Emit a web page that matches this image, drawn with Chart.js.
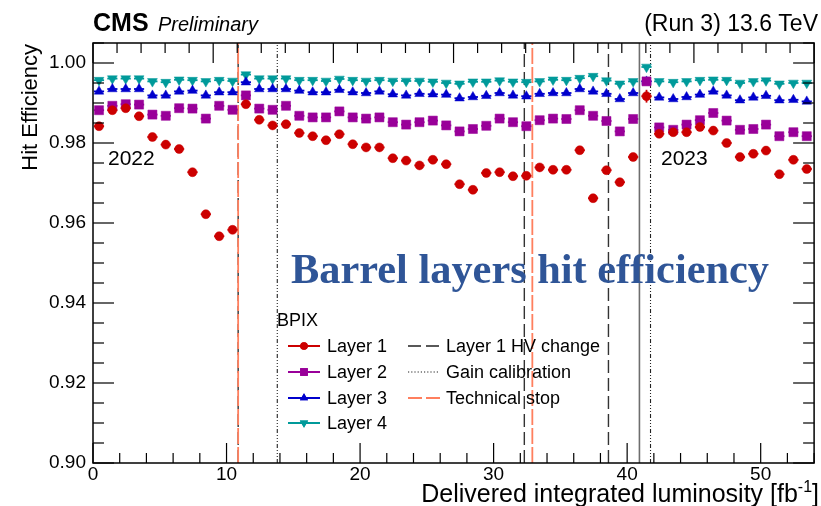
<!DOCTYPE html>
<html>
<head>
<meta charset="utf-8">
<script src="https://cdn.jsdelivr.net/npm/chart.js@4.4.1/dist/chart.umd.min.js"></script>
<style>
  html, body { margin: 0; padding: 0; background: #fff; }
  canvas { display: block; }
</style>
</head>
<body>
<canvas id="c" width="821" height="506"></canvas>
<script>
// bin centres, delivered lumi [fb^-1]
const LUMI = [0.45, 1.45, 2.45, 3.45, 4.45, 5.45, 6.45, 7.45, 8.45, 9.45, 10.45, 11.45, 12.45,
  13.45, 14.45, 15.45, 16.45, 17.45, 18.45, 19.45, 20.45, 21.45, 22.45, 23.45, 24.45, 25.45,
  26.45, 27.45, 28.45, 29.45, 30.45, 31.45, 32.45, 33.45, 34.45, 35.45, 36.45, 37.45, 38.45,
  39.45, 40.45, 41.45, 42.4, 43.45, 44.45, 45.45, 46.45, 47.45, 48.45, 49.45, 50.4, 51.4, 52.45, 53.45];

const LAYER1 = [0.9842, 0.9882, 0.9887, 0.9867, 0.9815, 0.9796, 0.9785, 0.9727, 0.9622, 0.9567, 0.9583, 0.9897, 0.9858,
  0.9844, 0.9847, 0.9825, 0.9817, 0.9807, 0.9822, 0.9797, 0.9789, 0.9789, 0.9762, 0.9756, 0.9744, 0.9758,
  0.9747, 0.9697, 0.9683, 0.9725, 0.9727, 0.9717, 0.9718, 0.9739, 0.9733, 0.9733, 0.9782, 0.9662, 0.9732,
  0.9702, 0.9765, 0.9917, 0.9823, 0.9827, 0.9827, 0.9840, 0.9831, 0.9800, 0.9765, 0.9773, 0.9781, 0.9722, 0.9758, 0.9735];
const LAYER2 = [0.9882, 0.9893, 0.9897, 0.9896, 0.9871, 0.9868, 0.9887, 0.9886, 0.9861, 0.9893, 0.9883, 0.9919, 0.9886,
  0.9883, 0.9893, 0.9868, 0.9864, 0.9864, 0.9879, 0.9864, 0.9861, 0.9864, 0.9852, 0.9846, 0.9852, 0.9856,
  0.9844, 0.9829, 0.9835, 0.9843, 0.9861, 0.9852, 0.9842, 0.9857, 0.9861, 0.9860, 0.9882, 0.9868, 0.9855,
  0.9829, 0.9860, 0.9954, 0.9839, 0.9833, 0.9846, 0.9857, 0.9875, 0.9856, 0.9833, 0.9835, 0.9846, 0.9817, 0.9827, 0.9817];
const LAYER3 = [0.9929, 0.9935, 0.9935, 0.9935, 0.9919, 0.9919, 0.9929, 0.9931, 0.9919, 0.9927, 0.9927, 0.9952, 0.9935,
  0.9935, 0.9935, 0.9931, 0.9927, 0.9927, 0.9933, 0.9927, 0.9925, 0.9929, 0.9922, 0.9919, 0.9923, 0.9922,
  0.9921, 0.9912, 0.9915, 0.9918, 0.9925, 0.9919, 0.9917, 0.9923, 0.9925, 0.9925, 0.9935, 0.9929, 0.9923,
  0.9910, 0.9925, 0.9954, 0.9914, 0.9910, 0.9915, 0.9921, 0.9929, 0.9919, 0.9907, 0.9914, 0.9918, 0.9907, 0.9908, 0.9904];
const LAYER4 = [0.9957, 0.9961, 0.9961, 0.9961, 0.9954, 0.9952, 0.9958, 0.9957, 0.9954, 0.9957, 0.9955, 0.9971, 0.9961,
  0.9961, 0.9961, 0.9957, 0.9957, 0.9955, 0.9960, 0.9957, 0.9955, 0.9957, 0.9955, 0.9955, 0.9955, 0.9953,
  0.9950, 0.9948, 0.9953, 0.9953, 0.9956, 0.9953, 0.9952, 0.9954, 0.9958, 0.9957, 0.9962, 0.9967, 0.9956,
  0.9948, 0.9954, 0.9990, 0.9954, 0.9952, 0.9954, 0.9957, 0.9958, 0.9957, 0.9950, 0.9954, 0.9956, 0.9948, 0.9950, 0.9950];

// visible vertical error only on the layer 1 point right after the year change
const L1_YERR_AT = [41.45];
const L1_YERR = [0.0016];
const XERR = 0.38;

// vertical markers [fb^-1]
const HV_CHANGE = [10.87, 32.3, 38.6];
const GAIN_CAL = [13.8, 41.75];
const TECH_STOP = [10.87, 32.9];
const YEAR_END = [40.92];

const X_TICKS = [0, 10, 20, 30, 40, 50];
const Y_TICKS = [0.90, 0.92, 0.94, 0.96, 0.98, 1.00];

const SANS = '"Liberation Sans", Arial, Helvetica, sans-serif';
const HV_DASH = [13, 5], GAIN_DASH = [4, 2, 1, 2, 1, 2, 1, 2], TS_DASH = [16, 3];
const TS_COLOR = '#ff7f5e';

const SERIES = [
  { label: 'Layer 1', data: LAYER1, color: '#cc0000', style: 'circle', radius: 4.5, rot: 0 },
  { label: 'Layer 2', data: LAYER2, color: '#990099', style: 'rect', radius: 6.4, rot: 0 },
  { label: 'Layer 3', data: LAYER3, color: '#0000cc', style: 'triangle', radius: 5.5, rot: 0 },
  { label: 'Layer 4', data: LAYER4, color: '#009a9a', style: 'triangle', radius: 5.7, rot: 180 },
];

function vline(ctx, xs, yScale, px, color, width, dash) {
  ctx.save();
  ctx.strokeStyle = color; ctx.lineWidth = width; ctx.setLineDash(dash);
  ctx.beginPath(); ctx.moveTo(px, yScale.bottom); ctx.lineTo(px, yScale.top); ctx.stroke();
  ctx.restore();
}
function seg(ctx, x1, y1, x2, y2) { ctx.beginPath(); ctx.moveTo(x1, y1); ctx.lineTo(x2, y2); ctx.stroke(); }

const decor = {
  id: 'decor',
  beforeDatasetsDraw(chart) {
    const { ctx, chartArea: a, scales: { x, y } } = chart;
    ctx.save();
    ctx.beginPath(); ctx.rect(a.left, a.top, a.right - a.left, a.bottom - a.top); ctx.clip();
    YEAR_END.forEach(v => vline(ctx, x, y, x.getPixelForValue(v), '#6e6e6e', 1.6, []));
    HV_CHANGE.forEach(v => vline(ctx, x, y, x.getPixelForValue(v), '#333', 1.4, HV_DASH));
    GAIN_CAL.forEach(v => vline(ctx, x, y, x.getPixelForValue(v), '#222', 1.1, GAIN_DASH));
    TECH_STOP.forEach(v => vline(ctx, x, y, x.getPixelForValue(v), TS_COLOR, 1.8, TS_DASH));
    // horizontal (bin width) error bars
    chart.data.datasets.forEach(ds => {
      ctx.strokeStyle = ds.borderColor; ctx.lineWidth = 1.8; ctx.setLineDash([]);
      ds.data.forEach(p => {
        const py = y.getPixelForValue(p.y);
        seg(ctx, x.getPixelForValue(p.x - XERR), py, x.getPixelForValue(p.x + XERR), py);
      });
    });
    const d1 = chart.data.datasets[0];
    L1_YERR_AT.forEach((lx, k) => {
      const p = d1.data.find(q => q.x === lx);
      if (!p) return;
      ctx.strokeStyle = d1.borderColor;
      const px = x.getPixelForValue(p.x);
      seg(ctx, px, y.getPixelForValue(p.y - L1_YERR[k]), px, y.getPixelForValue(p.y + L1_YERR[k]));
    });
    ctx.restore();
  },
  afterDraw(chart) {
    const { ctx, chartArea: a, scales: { x, y, x2 } } = chart;
    ctx.save();
    // frame + ticks on all four sides
    ctx.strokeStyle = '#000'; ctx.lineWidth = 1.5; ctx.setLineDash([]);
    ctx.strokeRect(a.left, a.top, a.right - a.left, a.bottom - a.top);
    ctx.lineWidth = 1.2;
    for (let v = 0; v <= 54; v += 2) {
      const px = x.getPixelForValue(v), len = v % 10 === 0 ? 20 : 10;
      seg(ctx, px, a.bottom, px, a.bottom - len);
    }
    for (let v = 0; v <= 60; v += 2) {
      const px = x2.getPixelForValue(v), len = v % 10 === 0 ? 20 : 10;
      seg(ctx, px, a.top, px, a.top + len);
    }
    for (let i = 0; i <= 21; i++) {
      const py = y.getPixelForValue(0.9 + i * 0.005), len = i % 4 === 0 ? 21 : 11;
      seg(ctx, a.left, py, a.left + len, py);
      seg(ctx, a.right, py, a.right - len, py);
    }

    ctx.fillStyle = '#000';
    ctx.textBaseline = 'alphabetic';
    ctx.textAlign = 'left';
    ctx.font = 'bold 25px ' + SANS;
    ctx.fillText('CMS', 93, 31);
    ctx.font = 'italic 20px ' + SANS;
    ctx.fillText('Preliminary', 158, 31);
    ctx.textAlign = 'right';
    ctx.font = '23px ' + SANS;
    ctx.fillText('(Run 3) 13.6 TeV', 818, 31);

    // axis titles
    ctx.save();
    ctx.translate(31, a.top + 1);
    ctx.rotate(-Math.PI / 2);
    ctx.textAlign = 'right'; ctx.textBaseline = 'middle';
    ctx.font = '22px ' + SANS;
    ctx.fillText('Hit Efficiency', 0, 0);
    ctx.restore();

    const titleFont = '25px ' + SANS;
    const supFont = '16px ' + SANS;
    ctx.textAlign = 'left';
    ctx.font = titleFont;
    const w1 = ctx.measureText('Delivered integrated luminosity [fb').width;
    const w3 = ctx.measureText(']').width;
    ctx.font = supFont;
    const w2 = ctx.measureText('-1').width;
    const tx = 819 - w1 - w2 - w3;
    ctx.font = titleFont;
    ctx.fillText('Delivered integrated luminosity [fb', tx, 502);
    ctx.font = supFont;
    ctx.fillText('-1', tx + w1, 492);
    ctx.font = titleFont;
    ctx.fillText(']', tx + w1 + w2, 502);

    // year labels
    ctx.font = '21px ' + SANS;
    ctx.fillText('2022', 108, 165);
    ctx.fillText('2023', 661, 165);

    // overlay title
    ctx.save();
    ctx.font = 'bold 42px "Liberation Serif", "Times New Roman", serif';
    ctx.fillStyle = '#2f5597';
    const tw = ctx.measureText('Barrel layers hit efficiency').width;
    ctx.translate(291, 283);
    ctx.scale(478 / tw, 1);
    ctx.fillText('Barrel layers hit efficiency', 0, 0);
    ctx.restore();

    // legend
    ctx.font = '18px ' + SANS;
    ctx.textBaseline = 'middle';
    ctx.fillStyle = '#000';
    ctx.fillText('BPIX', 277, 321);
    const rows = [346, 372, 398, 423];
    chart.data.datasets.forEach((ds, i) => {
      const ry = rows[i];
      ctx.strokeStyle = ds.borderColor; ctx.lineWidth = 2; ctx.setLineDash([]);
      seg(ctx, 288, ry, 320, ry);
      ctx.fillStyle = ds.backgroundColor;
      Chart.helpers.drawPoint(ctx, { pointStyle: ds.pointStyle, rotation: ds.pointRotation, radius: ds.pointRadius * 0.85, borderWidth: 0 }, 304, ry);
      ctx.fill();
      ctx.fillStyle = '#000';
      ctx.fillText(ds.label, 327, ry + 1);
    });
    const extra = [
      { text: 'Layer 1 HV change', color: '#222', w: 1.4, dash: HV_DASH },
      { text: 'Gain calibration', color: '#222', w: 1.1, dash: [1.2, 2] },
      { text: 'Technical stop', color: TS_COLOR, w: 2, dash: [14, 4] },
    ];
    extra.forEach((e, i) => {
      const ry = rows[i];
      ctx.strokeStyle = e.color; ctx.lineWidth = e.w; ctx.setLineDash(e.dash);
      seg(ctx, 408, ry, 440, ry);
      ctx.setLineDash([]);
      ctx.fillStyle = '#000';
      ctx.fillText(e.text, 446, ry + 1);
    });
    ctx.restore();
  }
};

const datasets = SERIES.map(s => ({
  label: s.label,
  data: LUMI.map((lx, i) => ({ x: lx, y: s.data[i] })),
  showLine: false,
  borderColor: s.color,
  backgroundColor: s.color,
  pointBackgroundColor: s.color,
  pointBorderColor: s.color,
  pointBorderWidth: 0.5,
  pointStyle: s.style,
  pointRotation: s.rot,
  pointRadius: s.radius,
}));

new Chart(document.getElementById('c'), {
  type: 'scatter',
  data: { datasets },
  options: {
    responsive: false,
    animation: false,
    devicePixelRatio: 1,
    layout: { padding: { top: 43, right: 3, left: 0, bottom: 0 } },
    plugins: { legend: { display: false }, tooltip: { enabled: false } },
    scales: {
      x: {
        type: 'linear', position: 'bottom', min: 0, max: 54,
        grid: { display: false, drawTicks: false }, border: { display: false },
        afterBuildTicks: s => { s.ticks = X_TICKS.map(v => ({ value: v })); },
        ticks: { color: '#000', font: { family: SANS, size: 19 }, padding: 0, maxRotation: 0, callback: v => String(v) },
        afterFit: s => { s.height = 43; }
      },
      x2: {
        type: 'linear', axis: 'x', position: 'top', min: 0, max: 60, display: false
      },
      y: {
        type: 'linear', min: 0.9, max: 1.005,
        grid: { display: false, drawTicks: false }, border: { display: false },
        afterBuildTicks: s => { s.ticks = Y_TICKS.map(v => ({ value: v })); },
        ticks: { color: '#000', font: { family: SANS, size: 19 }, padding: 7, callback: v => Number(v).toFixed(2) },
        afterFit: s => { s.width = 93; }
      }
    }
  },
  plugins: [decor]
});
</script>
</body>
</html>
